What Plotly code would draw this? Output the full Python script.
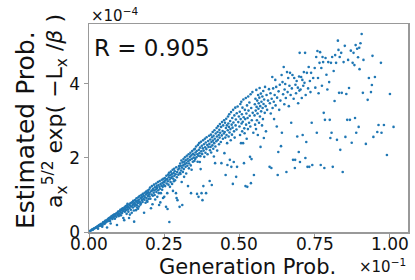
import plotly.graph_objects as go

# Generation probability (in units of 1e-1) and estimated probability (in units of 1e-4)
gen_prob = [
    0.004,0.008,0.011,0.013,0.016,0.018,0.021,0.023,0.025,0.027,0.029,0.031,0.033,0.034,0.036,0.038,0.039,0.041,0.042,0.044,0.045,0.047,0.048,0.049,0.030,
    0.051,0.052,0.054,0.055,0.057,0.058,0.060,0.061,0.062,0.064,0.065,0.067,0.068,0.070,0.071,0.072,0.074,0.075,0.077,0.078,0.080,0.081,0.083,0.084,0.086,0.087,0.088,0.090,0.091,0.093,0.094,0.095,0.097,0.098,0.099,
    0.101,0.102,0.104,0.105,0.106,0.108,0.109,0.110,0.112,0.113,0.114,0.116,0.117,0.118,0.119,0.121,0.122,0.123,0.125,0.126,0.127,0.129,0.130,0.131,0.133,0.134,0.135,0.137,0.138,0.139,0.141,0.142,0.143,0.145,0.146,0.147,0.148,0.149,0.136,0.128,
    0.150,0.151,0.152,0.153,0.154,0.156,0.157,0.158,0.159,0.160,0.161,0.162,0.164,0.165,0.166,0.167,0.168,0.170,0.171,0.172,0.173,0.174,0.176,0.177,0.178,0.179,0.181,0.182,0.183,0.184,0.185,0.186,0.188,0.189,0.190,0.191,0.192,0.193,0.194,0.195,0.196,0.197,0.198,0.199,0.163,
    0.200,0.201,0.202,0.203,0.204,0.206,0.207,0.208,0.209,0.210,0.211,0.212,0.213,0.215,0.216,0.217,0.218,0.219,0.220,0.222,0.223,0.224,0.225,0.226,0.227,0.229,0.230,0.231,0.232,0.233,0.234,0.235,0.236,0.237,0.238,0.239,0.241,0.242,0.243,0.244,0.245,0.246,0.247,0.248,0.249,
    0.250,0.251,0.252,0.253,0.254,0.256,0.257,0.258,0.259,0.260,0.261,0.262,0.263,0.264,0.265,0.266,0.267,0.268,0.269,0.270,0.271,0.272,0.273,0.275,0.276,0.277,0.278,0.279,0.280,0.281,0.282,0.283,0.284,0.285,0.286,0.288,0.289,0.290,0.291,0.292,0.293,0.294,0.296,0.297,0.299,
    0.300,0.301,0.302,0.303,0.304,0.305,0.306,0.307,0.308,0.309,0.310,0.311,0.312,0.313,0.314,0.315,0.316,0.317,0.318,0.319,0.321,0.322,0.323,0.324,0.325,0.327,0.328,0.329,0.330,0.331,0.332,0.333,0.335,0.336,0.337,0.338,0.339,0.340,0.341,0.342,0.343,0.345,0.346,0.348,0.349,
    0.350,0.351,0.352,0.353,0.354,0.356,0.357,0.358,0.359,0.360,0.361,0.362,0.363,0.364,0.365,0.366,0.367,0.368,0.369,0.370,0.371,0.372,0.373,0.374,0.375,0.376,0.377,0.378,0.379,0.380,0.381,0.382,0.383,0.385,0.386,0.387,0.388,0.389,0.390,0.391,0.393,0.394,0.396,0.397,0.399,
    0.400,0.401,0.402,0.403,0.404,0.405,0.406,0.407,0.408,0.409,0.410,0.411,0.412,0.413,0.414,0.415,0.416,0.417,0.418,0.419,0.420,0.421,0.423,0.424,0.425,0.426,0.427,0.428,0.429,0.431,0.432,0.433,0.434,0.435,0.436,0.438,0.439,0.440,0.441,0.442,0.444,0.445,0.446,0.448,0.449,
    0.450,0.451,0.452,0.453,0.454,0.455,0.456,0.457,0.458,0.459,0.460,0.461,0.462,0.463,0.464,0.465,0.466,0.467,0.468,0.469,0.470,0.471,0.472,0.473,0.474,0.475,0.476,0.477,0.478,0.479,0.480,0.481,0.482,0.483,0.484,0.486,0.487,0.488,0.489,0.490,0.491,0.492,0.494,0.496,0.498,
    0.500,0.501,0.502,0.503,0.504,0.505,0.506,0.507,0.508,0.509,0.510,0.511,0.512,0.513,0.514,0.515,0.516,0.517,0.518,0.519,0.520,0.521,0.522,0.523,0.524,0.525,0.526,0.527,0.528,0.529,0.530,0.532,0.533,0.534,0.535,0.536,0.537,0.538,0.539,0.540,0.541,0.543,0.544,0.546,0.548,
    0.550,0.551,0.552,0.553,0.554,0.555,0.556,0.557,0.558,0.559,0.560,0.561,0.562,0.563,0.564,0.565,0.566,0.567,0.568,0.569,0.570,0.571,0.572,0.573,0.575,0.576,0.577,0.578,0.579,0.580,0.581,0.582,0.584,0.585,0.587,0.588,0.590,0.592,0.595,0.598,
    0.600,0.601,0.603,0.604,0.606,0.607,0.609,0.610,0.612,0.614,0.615,0.617,0.619,0.620,0.622,0.624,0.625,0.627,0.629,0.630,0.632,0.634,0.636,0.638,0.640,0.641,0.643,0.645,0.647,0.649,
    0.650,0.652,0.654,0.656,0.658,0.660,0.662,0.664,0.666,0.668,0.670,0.672,0.674,0.676,0.678,0.680,0.682,0.684,0.686,0.688,0.690,0.692,0.694,0.695,0.697,0.698,0.699,0.685,
    0.700,0.701,0.703,0.705,0.707,0.709,0.710,0.712,0.714,0.716,0.718,0.719,0.720,0.722,0.724,0.726,0.728,0.730,0.732,0.734,0.736,0.738,0.740,0.742,0.745,
    0.750,0.752,0.755,0.757,0.759,0.761,0.763,0.766,0.768,0.770,0.772,0.774,0.776,0.778,0.780,0.782,0.784,0.786,0.789,0.792,0.795,0.798,
    0.800,0.802,0.804,0.806,0.808,0.810,0.813,0.816,0.818,0.821,0.824,0.827,0.829,0.831,0.833,0.835,0.838,0.840,0.843,0.846,
    0.850,0.852,0.855,0.858,0.861,0.864,0.867,0.870,0.873,0.876,0.879,0.882,0.884,0.886,0.888,0.891,0.894,0.896,0.898,0.899,
    0.902,0.906,0.910,0.912,0.920,0.926,0.930,0.937,0.940,0.942,0.945,0.950,0.958,0.962,0.970,0.972,0.980,0.990,1.000,1.012,
]

est_prob = [
    0.03,0.05,0.07,0.06,0.09,0.10,0.11,0.13,0.12,0.15,0.14,0.17,0.16,0.19,0.18,0.21,0.17,0.22,0.20,0.14,0.19,0.26,0.23,0.27,0.09,
    0.27,0.22,0.30,0.25,0.31,0.28,0.12,0.33,0.29,0.36,0.31,0.38,0.34,0.30,0.40,0.23,0.37,0.43,0.41,0.35,0.45,0.39,0.47,0.42,0.36,0.48,0.44,0.50,0.41,0.19,0.52,0.46,0.55,0.49,0.43,
    0.56,0.48,0.60,0.53,0.45,0.58,0.62,0.51,0.64,0.57,0.38,0.61,0.32,0.67,0.55,0.63,0.70,0.59,0.49,0.66,0.72,0.61,0.68,0.55,0.38,0.74,0.65,0.71,0.78,0.60,0.69,0.52,0.80,0.73,0.66,0.84,0.76,0.58,0.47,0.76,
    0.28,0.79,0.70,0.86,0.75,0.59,0.82,0.91,0.72,0.66,0.85,0.78,0.94,0.83,0.69,0.88,0.97,0.80,0.74,0.77,0.92,1.00,0.86,0.95,0.81,1.03,0.90,0.98,0.52,0.87,1.06,0.94,0.79,1.01,1.09,0.92,0.85,1.04,0.82,1.12,0.97,1.07,0.89,1.01,0.63,
    1.15,0.96,1.06,1.20,0.90,0.64,1.10,1.01,1.24,1.13,0.75,0.98,1.17,1.06,1.28,1.12,1.00,1.21,0.88,1.15,1.31,1.08,1.24,1.19,0.95,1.35,1.13,1.27,1.05,0.73,1.22,1.38,1.17,0.80,1.30,1.05,1.25,1.41,1.14,1.33,1.22,0.92,1.44,1.28,1.36,
    0.95,1.35,1.46,1.24,1.40,0.68,1.52,1.31,1.43,1.05,0.62,1.37,1.55,1.28,1.48,1.60,0.27,1.42,1.22,1.53,1.35,1.63,1.46,1.57,1.30,1.50,1.68,1.11,1.44,1.59,1.37,1.71,1.52,1.64,1.40,1.56,1.05,1.75,0.92,1.48,1.62,0.86,1.69,1.55,1.78,
    1.72,0.68,1.60,1.85,1.57,1.79,1.66,1.93,1.35,1.74,0.73,1.88,1.62,1.80,1.97,1.70,1.49,1.90,1.83,2.02,1.76,1.94,1.58,1.86,2.06,1.79,1.98,1.24,1.91,2.10,1.72,1.85,2.03,1.95,2.14,1.80,1.05,2.07,1.68,1.98,2.19,1.90,2.11,2.01,2.23,
    1.92,2.08,2.25,1.97,2.15,2.31,2.02,2.19,1.03,2.10,1.90,2.35,2.06,0.95,2.22,2.40,2.13,1.89,2.28,2.05,1.70,2.44,2.18,1.05,2.33,2.11,0.86,2.26,2.48,1.24,2.20,2.37,2.03,2.52,2.29,2.14,2.42,1.05,2.24,2.56,2.35,2.10,2.46,2.30,2.60,
    2.38,1.38,2.21,2.50,2.30,2.63,2.15,2.43,1.27,2.56,2.34,2.70,2.47,2.25,2.60,2.04,2.40,2.75,2.52,1.86,2.31,2.66,2.45,2.81,2.58,2.20,2.70,2.49,2.86,2.62,2.37,2.76,2.55,2.92,2.68,2.43,2.84,1.86,2.61,2.97,2.73,2.52,2.88,2.66,3.02,
    2.13,2.70,2.95,2.55,1.54,2.81,3.06,2.62,2.88,2.40,1.81,2.75,3.12,2.93,2.58,2.84,3.18,2.69,1.95,3.00,2.78,2.48,3.24,1.76,2.90,2.63,3.08,2.82,1.30,3.30,2.96,1.89,2.72,3.15,2.55,3.36,2.88,3.04,1.49,2.77,3.21,1.76,3.39,2.97,3.12,
    2.85,3.25,2.62,3.46,3.05,2.40,3.52,2.93,3.18,2.72,3.36,2.98,2.40,3.58,3.10,1.86,2.80,2.67,3.30,3.05,1.24,3.62,2.90,3.20,2.52,3.42,1.22,3.08,2.78,3.66,3.28,2.95,3.50,3.14,2.03,2.85,3.72,1.32,3.35,1.97,3.02,3.78,3.22,2.68,1.54,
    3.15,3.45,2.90,3.60,3.28,2.78,3.84,3.38,3.02,3.55,3.20,2.62,3.70,3.33,3.48,2.95,3.63,3.89,3.12,3.40,2.30,3.74,3.26,3.52,2.88,3.66,3.35,3.05,3.81,3.46,2.54,3.58,3.22,3.92,3.40,2.72,3.70,3.30,3.55,3.86,
    1.76,3.48,3.75,3.20,1.73,3.60,4.19,3.35,3.88,3.52,3.05,3.70,4.11,3.42,3.92,2.85,3.63,1.54,2.16,3.80,3.30,3.98,3.55,2.32,4.24,2.68,4.05,3.72,4.46,3.45,
    3.85,4.00,3.62,1.62,4.32,3.78,4.16,3.40,3.95,4.30,3.70,2.95,3.88,4.24,1.95,3.60,4.16,1.73,3.98,3.75,4.08,2.58,3.90,3.48,2.16,4.20,3.82,1.95,
    4.84,1.89,3.85,4.19,3.62,4.11,2.62,3.95,4.32,4.03,4.84,2.00,3.70,2.43,4.30,1.76,3.88,4.46,1.76,4.08,3.78,4.30,2.95,1.81,4.16,
    4.43,3.90,4.73,2.68,4.89,4.16,3.75,4.57,4.86,1.81,4.43,3.95,4.73,4.59,3.22,1.73,3.03,4.70,4.25,3.85,4.59,4.05,
    3.03,2.54,4.57,2.68,4.73,1.76,4.35,3.54,4.78,4.57,2.49,5.17,4.92,3.76,4.73,2.22,4.84,3.76,1.62,4.59,
    5.03,2.57,3.73,3.03,4.65,3.89,3.03,4.90,2.41,4.57,4.84,4.51,3.08,5.05,2.68,4.95,4.72,2.84,4.98,4.40,
    5.10,5.35,3.76,4.65,2.38,3.57,4.16,3.78,3.97,4.76,2.57,4.19,2.70,2.89,4.57,2.68,2.89,2.08,3.73,2.84,
]

x_scale = 1e-1
y_scale = 1e-4
x_ticks = [0.0, 0.25, 0.5, 0.75, 1.0]
x_tick_labels = ["0.00", "0.25", "0.50", "0.75", "1.00"]
y_ticks = [0, 2, 4]
y_tick_labels = ["0", "2", "4"]
r_value = 0.905

n = min(len(gen_prob), len(est_prob))
xs = [v * x_scale for v in gen_prob[:n]]
ys = [v * y_scale for v in est_prob[:n]]

FONT = "DejaVu Sans"
AX = "#999999"
TXT = "#111111"

fig = go.Figure()
fig.add_trace(go.Scatter(
    x=xs, y=ys, mode="markers",
    marker=dict(color="#1f77b4", size=2.6, line=dict(width=0)),
    showlegend=False, hoverinfo="skip",
))

fig.update_layout(
    width=415, height=280,
    margin=dict(l=89, r=7, t=24, b=48, autoexpand=False),
    paper_bgcolor="white", plot_bgcolor="white",
    font=dict(family=FONT, color=TXT, size=16),
    xaxis=dict(
        range=[0, 1.06 * x_scale],
        tickvals=[t * x_scale for t in x_ticks], showticklabels=False,
        showgrid=False, zeroline=False,
        showline=True, linecolor=AX, linewidth=1.5, mirror=True,
        ticks="outside", ticklen=4, tickcolor=AX, tickwidth=1,
    ),
    yaxis=dict(
        range=[0, 5.62 * y_scale],
        tickvals=[t * y_scale for t in y_ticks], ticktext=y_tick_labels,
        showgrid=False, zeroline=False,
        showline=True, linecolor=AX, linewidth=1.5, mirror=True,
        ticks="outside", ticklen=4, tickcolor=AX, tickwidth=1,
        tickfont=dict(size=17, family=FONT, color=TXT),
    ),
)

# x tick labels placed at the axis tick positions
for tv, tl in zip(x_ticks, x_tick_labels):
    fig.add_annotation(
        text=tl, xref="x", yref="paper", x=tv * x_scale, y=-0.058,
        xanchor="center", yanchor="middle", showarrow=False,
        font=dict(size=17, family=FONT, color=TXT),
    )

fig.add_annotation(
    text=f"R = {r_value:.3f}", xref="paper", yref="paper",
    x=0.009, y=0.885, xanchor="left", yanchor="middle", showarrow=False,
    font=dict(size=23, family=FONT, color=TXT),
)
fig.add_annotation(
    text="×10<sup>−4</sup>", xref="paper", yref="paper",
    x=0.0, y=1.045, xanchor="left", yanchor="middle", showarrow=False,
    font=dict(size=15, family=FONT, color=TXT),
)
fig.add_annotation(
    text="×10<sup>−1</sup>", xref="paper", yref="paper",
    x=1.0, y=-0.163, xanchor="right", yanchor="middle", showarrow=False,
    font=dict(size=15, family=FONT, color=TXT),
)
fig.add_annotation(
    text="Generation Prob.", xref="paper", yref="paper",
    x=0.498, y=-0.168, xanchor="center", yanchor="middle", showarrow=False,
    font=dict(size=21, family=FONT, color=TXT),
)
fig.add_annotation(
    text="Estimated Prob.", xref="paper", yref="paper",
    x=-0.2006, y=0.49, xanchor="center", yanchor="middle", showarrow=False,
    textangle=-90, font=dict(size=25, family=FONT, color=TXT),
)
fig.add_annotation(
    text="a<sub>x</sub><sup>5/2</sup> exp( −L<sub>x</sub> /<i>β</i> )", xref="paper", yref="paper",
    x=-0.1066, y=0.582, xanchor="center", yanchor="middle", showarrow=False,
    textangle=-90, font=dict(size=22, family=FONT, color=TXT),
)

fig.write_html(
    "out.html",
    config={"displayModeBar": False, "staticPlot": True},
    post_script="document.body.style.margin='0px';document.body.style.overflow='hidden';",
)
